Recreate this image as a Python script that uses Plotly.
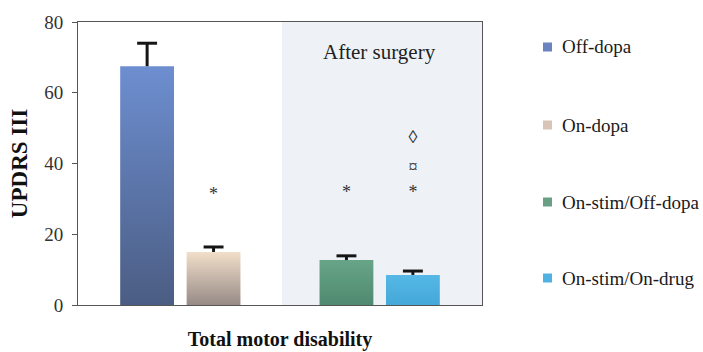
import plotly.graph_objects as go

# Group labels and UPDRS III scores (mean with upper SEM)
groups = ["Off-dopa", "On-dopa", "On-stim/Off-dopa", "On-stim/On-drug"]
positions = [1, 2, 4, 5]
means = [67.5, 15.0, 12.7, 8.5]
sem = [6.5, 1.4, 1.2, 1.1]

# Significance marks drawn above the bars
mark_x = [2, 4, 5, 5, 5]
mark_y = [31, 31.5, 31.5, 38.7, 47]
mark_text = ["*", "*", "*", "¤", "◊"]

# Vertical gradients (bottom, top) and legend colours
grad = [("#4b5d83", "#6d8ed0"), ("#978a86", "#f2dfca"), ("#4f8a70", "#68a487"), ("#44a8d8", "#55b8e6")]
legend_col = ["#6a84bf", "#d9c5b8", "#6a9f86", "#4fb2e0"]

bar_w = 0.81
cap_half = 0.15
serif = "Liberation Serif, Times New Roman, serif"

# Plot-area geometry in pixels (used to place the side legend)
W, H = 703, 352
ML, MR, MT, MB = 78, 221, 22, 47
PW, PH = W - ML - MR, H - MT - MB

fig = go.Figure()

# Bars as gradient-filled rectangles
for p, m, (c0, c1) in zip(positions, means, grad):
    l, r = p - bar_w / 2, p + bar_w / 2
    fig.add_trace(go.Scatter(
        x=[l, r, r, l, l], y=[0, 0, m, m, 0],
        mode="lines", line=dict(width=0), fill="toself",
        fillgradient=dict(type="vertical", colorscale=[[0, c0], [1, c1]]),
        showlegend=False, hoverinfo="skip"))

# Upper error bars: stem from the bar top plus a cap
ex, ey = [], []
for p, m, s in zip(positions, means, sem):
    ex += [p, p, None, p - cap_half, p + cap_half, None]
    ey += [m, m + s, None, m + s, m + s, None]
fig.add_trace(go.Scatter(x=ex, y=ey, mode="lines",
                         line=dict(color="#151515", width=3),
                         showlegend=False, hoverinfo="skip"))

# Significance symbols
fig.add_trace(go.Scatter(
    x=mark_x, y=mark_y, mode="text", text=mark_text,
    textfont=dict(family=serif, size=18, color="#333"),
    showlegend=False, hoverinfo="skip"))

fig.add_shape(type="rect", xref="x", yref="y", x0=3.03, x1=6.04, y0=0, y1=80,
              fillcolor="#eef2f7", line=dict(width=0), layer="below")

fig.add_annotation(x=4.5, y=71.5, xref="x", yref="y", text="After surgery",
                   showarrow=False, font=dict(family=serif, size=21, color="#222"))

# Side legend: small colour squares with labels
legend_y_px = [47, 125, 202, 278]
sq = 9
for g, c, ypx in zip(groups, legend_col, legend_y_px):
    yc = (H - MB - ypx) / PH
    fig.add_shape(type="rect", xref="paper", yref="paper",
                  x0=(543 - ML) / PW, x1=(543 + sq - ML) / PW,
                  y0=yc - sq / 2 / PH, y1=yc + sq / 2 / PH,
                  fillcolor=c, line=dict(width=0))
    fig.add_annotation(x=(560 - ML) / PW, y=yc, xref="paper", yref="paper",
                       xanchor="left", yanchor="middle", text=g, showarrow=False,
                       font=dict(family=serif, size=19, color="#1a1a1a"))

fig.update_layout(
    width=W, height=H,
    margin=dict(l=ML, r=MR, t=MT, b=MB),
    paper_bgcolor="white", plot_bgcolor="white",
    font=dict(family=serif, color="#222"),
    showlegend=False,
    xaxis=dict(range=[-0.04, 6.04], showticklabels=False, ticks="",
               showgrid=False, zeroline=False, showline=True, mirror=True,
               linecolor="#555", linewidth=1, automargin=False,
               title=dict(text="<b>Total motor disability</b>", standoff=26,
                          font=dict(family=serif, size=20, color="#111"))),
    yaxis=dict(range=[0, 80], tickvals=[0, 20, 40, 60, 80], ticks="outside",
               ticklen=5, tickcolor="#555", ticklabelstandoff=5,
               showgrid=False, zeroline=False, automargin=False,
               showline=True, mirror=True, linecolor="#555", linewidth=1,
               tickfont=dict(family=serif, size=19, color="#333"),
               title=dict(text="<b>UPDRS III</b>", standoff=10,
                          font=dict(family=serif, size=23, color="#111"))),
)

fig.write_html("out.html")
